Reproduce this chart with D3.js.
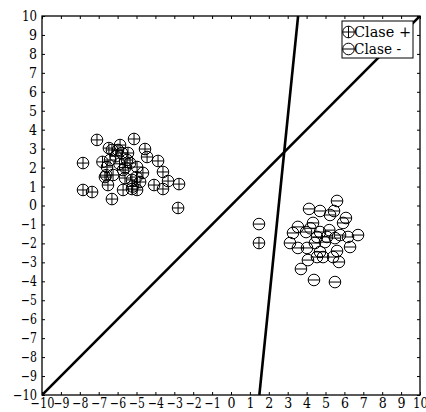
<!DOCTYPE html>
<html><head><meta charset="utf-8">
<script src="https://cdn.jsdelivr.net/npm/d3@7"></script>
<style>body{margin:0;background:#fff}svg{display:block}</style>
</head><body>
<svg id="c" width="426" height="412"></svg>
<script>
const ticks = d3.range(-10, 11);
const plusX = [-7.09,-5.13,-7.83,-6.46,-5.87,-4.55,-4.44,-3.86,-3.60,-3.33,-2.75,-4.07,-3.60,-2.80,-7.83,-7.35,-6.30,-5.71,-5.24,-4.97,-4.66,-4.97,-6.56,-6.67,-6.51,-6.40,-5.77,-5.50,-5.34,-5.71,-5.61,-5.24,-6.24,-4.81,-5.98,-6.30,-5.45,-6.1,-5.9,-5.6,-5.2,-6.8,-6.6,-5.0,1.48];
const plusY = [3.46,3.51,2.24,3.03,3.19,2.98,2.56,2.35,1.77,1.29,1.13,1.08,0.87,-0.13,0.82,0.71,0.34,0.82,0.87,0.82,1.72,2.03,2.03,1.50,1.08,2.40,2.77,2.40,2.24,1.87,1.45,1.35,1.61,1.24,2.93,2.93,2.77,2.6,2.2,2.0,1.0,2.3,1.6,1.5,-1.98];
const minusX = [1.48,5.61,4.13,4.71,5.24,5.45,6.08,5.93,6.72,6.19,6.30,3.54,4.34,3.28,3.97,4.71,3.12,3.54,4.02,4.44,4.97,5.50,5.77,5.40,5.71,4.07,4.55,4.71,3.70,4.39,5.50,4.55,5.08,4.87,5.61,4.2,5.2];
const minusY = [-0.98,0.24,-0.18,-0.29,-0.50,-0.29,-0.66,-0.92,-1.56,-1.66,-2.19,-1.13,-0.92,-1.45,-1.40,-1.40,-1.98,-2.24,-2.24,-1.98,-1.93,-1.72,-1.56,-2.72,-2.98,-2.88,-2.72,-2.45,-3.35,-3.93,-4.04,-1.66,-1.66,-2.72,-2.4,-1.2,-1.3];
const line1 = [[-10,-10],[10,10]];
const line2 = [[1.5,-10],[3.55,10]];
const legendLabels = ["Clase +","Clase -"];

const svg = d3.select("#c");
const L=42, R=420, T=16, B=395;
const x = d3.scaleLinear().domain([-10,10]).range([L,R]);
const y = d3.scaleLinear().domain([-10,10]).range([B,T]);
const font = "DejaVu Serif";
const fmt = d => d < 0 ? "\u2212" + Math.abs(d) : String(d);

svg.append("clipPath").attr("id","pc").append("rect")
  .attr("x",L).attr("y",T).attr("width",R-L).attr("height",B-T);

function styleAxis(g){
  g.attr("font-family",font).attr("font-size",14);
  g.select(".domain").remove();
  g.selectAll("text").attr("fill","#000").style("font-family",font);
  g.selectAll("line").attr("stroke","#000");
}
svg.append("g").attr("transform",`translate(0,${B})`)
  .call(d3.axisBottom(x).tickValues(ticks).tickSize(-3).tickPadding(3).tickFormat(fmt))
  .call(styleAxis)
  .call(g=>g.selectAll("text").attr("textLength",d=>d<0?(d===-10?24:16):(d===10?15:8)).attr("lengthAdjust","spacingAndGlyphs"));
svg.append("g").attr("transform",`translate(${L},0)`)
  .call(d3.axisLeft(y).tickValues(ticks).tickSize(-3).tickPadding(5).tickFormat(fmt))
  .call(styleAxis)
  .call(g=>g.selectAll("text").attr("textLength",d=>d<0?(d===-10?24:16):(d===10?15:8)).attr("lengthAdjust","spacingAndGlyphs"));
svg.append("g").attr("transform",`translate(0,${T})`)
  .call(d3.axisTop(x).tickValues(ticks).tickSize(-3).tickFormat(""))
  .call(styleAxis);
svg.append("g").attr("transform",`translate(${R},0)`)
  .call(d3.axisRight(y).tickValues(ticks).tickSize(-3).tickFormat(""))
  .call(styleAxis);

svg.append("rect").attr("x",L).attr("y",T).attr("width",R-L).attr("height",B-T)
  .attr("fill","none").attr("stroke","#000").attr("stroke-width",1.3);

const plot = svg.append("g").attr("clip-path","url(#pc)");
const lg = d3.line().x(d=>x(d[0])).y(d=>y(d[1]));
[line1,line2].forEach(l=>plot.append("path").attr("d",lg(l)).attr("stroke","#000").attr("stroke-width",2.6).attr("fill","none"));

const r = 5.8;
function marker(g, cx, cy, plus){
  g.append("circle").attr("cx",cx).attr("cy",cy).attr("r",r).attr("fill","none").attr("stroke","#000").attr("stroke-width",1);
  g.append("line").attr("x1",cx-r).attr("x2",cx+r).attr("y1",cy).attr("y2",cy).attr("stroke","#000").attr("stroke-width",1);
  if(plus) g.append("line").attr("x1",cx).attr("x2",cx).attr("y1",cy-r).attr("y2",cy+r).attr("stroke","#000").attr("stroke-width",1);
}
const pts = plot.append("g");
plusX.forEach((v,i)=>marker(pts, x(v), y(plusY[i]), true));
minusX.forEach((v,i)=>marker(pts, x(v), y(minusY[i]), false));

// legend
const lgd = svg.append("g");
lgd.append("rect").attr("x",342).attr("y",21).attr("width",71).attr("height",37)
  .attr("fill","#fff").attr("stroke","#000").attr("stroke-width",1);
legendLabels.forEach((t,i)=>{
  const cy = 32 + i*17;
  marker(lgd, 348.5, cy, i===0);
  lgd.append("text").attr("x",354).attr("y",cy+5).text(t)
    .style("font-family",font).attr("font-size",14).attr("fill","#000")
    .attr("textLength",i===0?57:47).attr("lengthAdjust","spacingAndGlyphs");
});
</script>
</body></html>
